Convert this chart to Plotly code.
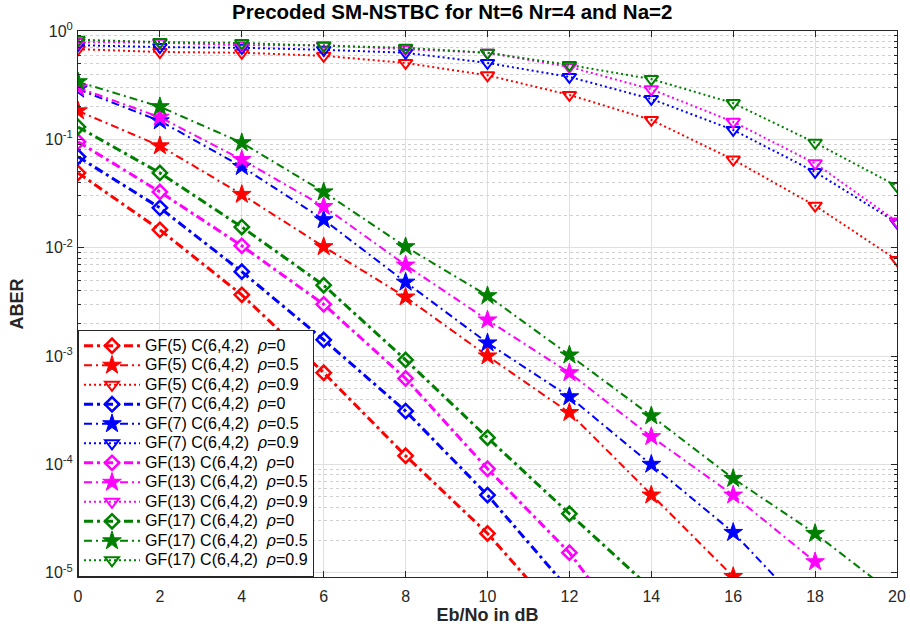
import plotly.graph_objects as go

# Eb/No grid (dB)
snr_db = [0, 2, 4, 6, 8, 10, 12, 14, 16, 18, 20]

# ABER per configuration (values past the plotted floor continue the curves off-axis)
gf5_rho0 = [0.049, 0.0146, 0.00367, 7.0e-4, 1.2e-4, 2.3e-5, 3.2e-6]
gf5_rho05 = [0.183, 0.087, 0.031, 0.0102, 0.0035, 1.0e-3, 3.0e-4, 5.2e-5, 9.2e-6]
gf5_rho09 = [0.68, 0.64, 0.63, 0.59, 0.507, 0.39, 0.257, 0.151, 0.065, 0.0244, 0.0077]

gf7_rho0 = [0.069, 0.0233, 0.0060, 0.00141, 3.1e-4, 5.2e-5, 6.9e-6]
gf7_rho05 = [0.29, 0.148, 0.056, 0.0181, 0.0048, 1.32e-3, 4.2e-4, 1.0e-4, 2.35e-5, 3.7e-6]
gf7_rho09 = [0.74, 0.71, 0.70, 0.67, 0.63, 0.507, 0.377, 0.236, 0.122, 0.050, 0.017]

gf13_rho0 = [0.095, 0.0327, 0.0104, 0.0030, 6.2e-4, 9.1e-5, 1.53e-5, 1.5e-6]
gf13_rho05 = [0.30, 0.16, 0.065, 0.024, 0.0069, 2.15e-3, 7.0e-4, 1.8e-4, 5.2e-5, 1.26e-5]
gf13_rho09 = [0.79, 0.78, 0.74, 0.74, 0.68, 0.63, 0.466, 0.29, 0.145, 0.060, 0.0174]

gf17_rho0 = [0.130, 0.049, 0.0155, 0.0045, 9.2e-4, 1.76e-4, 3.5e-5, 7.1e-6]
gf17_rho05 = [0.34, 0.20, 0.093, 0.0327, 0.0102, 3.6e-3, 1.02e-3, 2.8e-4, 7.4e-5, 2.3e-5, 6e-6]
gf17_rho09 = [0.83, 0.79, 0.775, 0.73, 0.70, 0.63, 0.486, 0.36, 0.216, 0.093, 0.037]

fields = ["GF(5)", "GF(7)", "GF(13)", "GF(17)"]
colors = ["#ff0000", "#0000ff", "#ff00ff", "#008000"]
rhos = ["0", "0.5", "0.9"]
series = [
    [gf5_rho0, gf5_rho05, gf5_rho09],
    [gf7_rho0, gf7_rho05, gf7_rho09],
    [gf13_rho0, gf13_rho05, gf13_rho09],
    [gf17_rho0, gf17_rho05, gf17_rho09],
]

styles = [
    dict(dash="9px,4px,3px,4px", width=3, symbol="diamond-open", size=11, mlw=2.5),
    dict(dash="8px,4px,2px,4px", width=2, symbol="star", size=14, mlw=1),
    dict(dash="2px,3px", width=2, symbol="triangle-down-open", size=12, mlw=2),
]

fig = go.Figure()
for field, color, group in zip(fields, colors, series):
    for rho, vals, st in zip(rhos, group, styles):
        label = f"{field} C(6,4,2)\u00a0 <i>\u03c1</i>={rho}"
        fig.add_trace(go.Scatter(
            x=snr_db[:len(vals)], y=vals,
            mode="lines+markers",
            name=f'<span style="font-size:16px">{label}</span>',
            line=dict(color=color, width=st["width"], dash=st["dash"]),
            marker=dict(symbol=st["symbol"], size=st["size"], color=color,
                        line=dict(color=color, width=st["mlw"])),
        ))

y_major = [10.0 ** -k for k in range(5, -1, -1)]
y_major_text = ["10<sup>-5</sup>", "10<sup>-4</sup>", "10<sup>-3</sup>",
                "10<sup>-2</sup>", "10<sup>-1</sup>", "10<sup>0</sup>"]
y_minor = [m * 10.0 ** -k for k in range(5, 0, -1) for m in range(2, 10)]

fig.update_layout(
    width=910, height=628,
    margin=dict(l=78, r=13, t=31, b=51),
    paper_bgcolor="white", plot_bgcolor="white",
    font=dict(family="Liberation Sans, Arial, sans-serif", size=16, color="#262626"),
    title=dict(text="Precoded SM-NSTBC for Nt=6 Nr=4 and Na=2",
               x=0.497, xanchor="center", y=0.981, yanchor="middle",
               font=dict(size=20.5, color="black", weight="bold")),
    showlegend=True,
    # legend row pitch follows the legend font size; entry text carries its own size
    legend=dict(x=0, y=0, xanchor="left", yanchor="bottom",
                bgcolor="white", bordercolor="#262626", borderwidth=1,
                font=dict(size=12.7, color="black"), itemwidth=56,
                tracegroupgap=0),
    xaxis=dict(range=[0, 20], tickvals=snr_db, ticks="inside", ticklen=6,
               tickcolor="#262626", showline=True, linecolor="#262626", linewidth=1,
               mirror="ticks", showgrid=True, gridcolor="#dfdfdf", gridwidth=1,
               zeroline=False, tickfont=dict(size=16), automargin=False,
               ticklabelstandoff=5,
               title=dict(text="<b>Eb/No in dB</b>", font=dict(size=18, color="#262626"),
                          standoff=3)),
    yaxis=dict(type="log", range=[-5.04, 0], tickvals=y_major, ticktext=y_major_text,
               ticks="inside", ticklen=6, tickcolor="#262626", showline=True,
               linecolor="#262626", linewidth=1, mirror="ticks", showgrid=True,
               gridcolor="#dfdfdf", gridwidth=1, zeroline=False, tickfont=dict(size=16),
               automargin=False, ticklabelstandoff=1,
               minor=dict(tickvals=y_minor, ticks="inside", ticklen=3,
                          tickcolor="#262626", showgrid=True, gridcolor="#d0d0d0",
                          griddash="dot", gridwidth=1),
               title=dict(text="<b>ABER</b>", font=dict(size=18, color="#262626"),
                          standoff=16)),
)

fig.write_html("out.html")
